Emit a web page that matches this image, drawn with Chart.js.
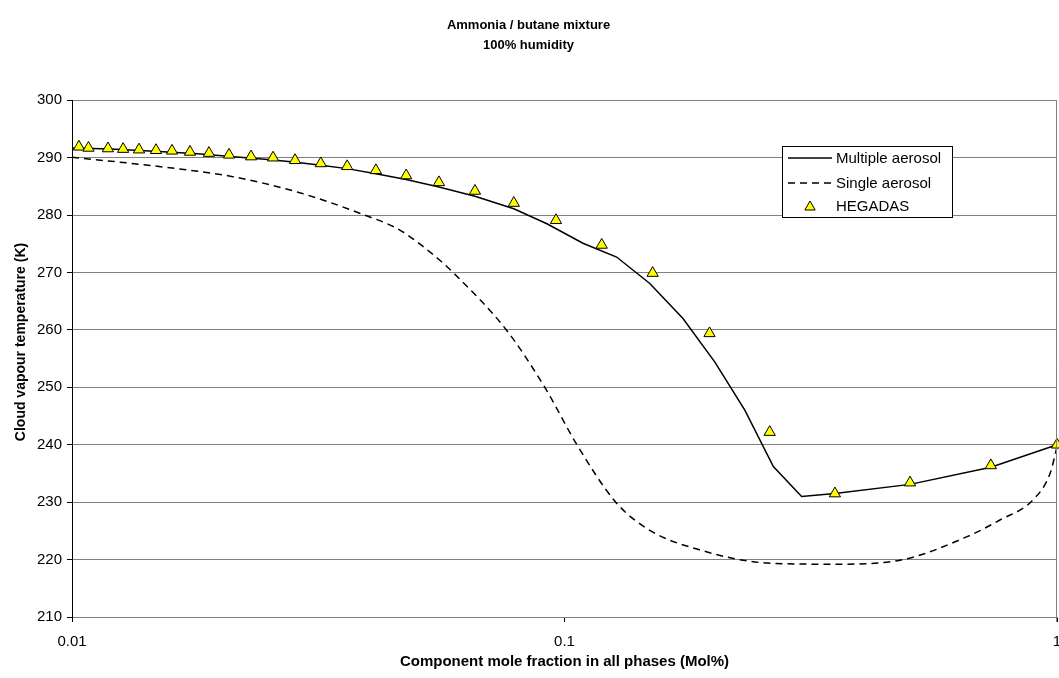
<!DOCTYPE html>
<html>
<head>
<meta charset="utf-8">
<title>Ammonia / butane mixture</title>
<script src="https://cdn.jsdelivr.net/npm/chart.js@4.4.0/dist/chart.umd.min.js"></script>
<style>
  html, body { margin: 0; padding: 0; background: #ffffff; overflow: hidden; }
  canvas { display: block; }
</style>
</head>
<body>
<canvas id="cloudChart" width="1059" height="678"></canvas>
<script>
// ==========================================
// data
// ==========================================
const multiX = [0.01, 0.012, 0.015, 0.018, 0.021, 0.025, 0.0285, 0.032, 0.0362, 0.0414, 0.0477,
  0.0556, 0.0658, 0.0789, 0.0921, 0.109, 0.1276, 0.149, 0.174, 0.202, 0.2325, 0.2655, 0.303,
  0.354, 0.503, 0.734, 1.0];
const multiY = [291.7, 291.5, 291.1, 290.7, 290.2, 289.7, 289.2, 288.7, 288.1, 287.2, 286.2,
  284.9, 283.3, 281.1, 278.5, 275.1, 272.7, 268.1, 262.0, 254.4, 246.0, 236.2, 231.0,
  231.5, 233.1, 236.1, 240.0];

const singleX = [0.01, 0.0156, 0.0212, 0.029, 0.0393, 0.0463, 0.0559, 0.0594, 0.0762,
  0.0912, 0.106, 0.1271, 0.149, 0.188, 0.258, 0.351, 0.48, 0.657, 0.766, 0.894, 0.968, 1.0];
const singleY = [290.1, 288.3, 286.7, 283.9, 280.0, 277.4, 272.1, 270.0, 260.0,
  250.0, 240.0, 230.0, 225.1, 221.7, 219.4, 219.2, 219.9, 224.0, 226.9, 230.4, 235.0, 239.6];

const hegadasX = [0.01033, 0.0108, 0.01183, 0.0127, 0.01368, 0.01481, 0.01596, 0.01736, 0.01897,
  0.02084, 0.0231, 0.0256, 0.02837, 0.032, 0.0362, 0.0414, 0.0477, 0.0556, 0.0658, 0.0789,
  0.0961, 0.119, 0.151, 0.197, 0.261, 0.354, 0.503, 0.734, 1.0];
const hegadasY = [291.9, 291.7, 291.6, 291.5, 291.4, 291.3, 291.2, 291.0, 290.8,
  290.5, 290.2, 290.0, 289.55, 289.0, 288.5, 287.8, 286.9, 285.7, 284.2, 282.1,
  279.1, 274.8, 269.9, 259.4, 242.2, 231.5, 233.4, 236.4, 240.0];

const xTicks = [0.01, 0.1, 1];
const yMin = 210;
const yMax = 300;
const yStep = 10;

const seriesLabels = ["Multiple aerosol", "Single aerosol", "HEGADAS"];
const titleLines = ["Ammonia / butane mixture", "100% humidity"];
const xTitle = "Component mole fraction in all phases (Mol%)";
const yTitle = "Cloud vapour temperature (K)";

const FONT = "'Liberation Sans', Arial, sans-serif";
const gridGray = "#808080";

function toPoints(xs, ys) {
  return xs.map((x, i) => ({ x, y: ys[i] }));
}

// Excel-style boxed legend sitting inside the plot area
const boxedLegend = {
  id: "boxedLegend",
  afterDraw(chart) {
    const ctx = chart.ctx;
    const left = 782, top = 146, width = 170, height = 71;
    ctx.save();
    ctx.fillStyle = "#ffffff";
    ctx.fillRect(left, top, width, height);
    ctx.strokeStyle = "#000000";
    ctx.lineWidth = 1;
    ctx.strokeRect(left + 0.5, top + 0.5, width, height);

    ctx.font = `15px ${FONT}`;
    ctx.textBaseline = "middle";
    const rows = [158, 183, 206];

    chart.data.datasets.forEach((ds, i) => {
      const y = rows[i];
      if (ds.showLine) {
        ctx.beginPath();
        ctx.setLineDash(ds.borderDash || []);
        ctx.strokeStyle = ds.borderColor;
        ctx.lineWidth = ds.borderWidth;
        ctx.moveTo(788, y);
        ctx.lineTo(832, y);
        ctx.stroke();
        ctx.setLineDash([]);
      } else {
        ctx.lineWidth = ds.pointBorderWidth;
        ctx.strokeStyle = ds.pointBorderColor;
        ctx.fillStyle = ds.pointBackgroundColor;
        Chart.helpers.drawPoint(ctx, { pointStyle: "triangle", radius: 6, rotation: 0, borderWidth: ds.pointBorderWidth }, 810, y + 1);
      }
      ctx.fillStyle = "#000000";
      ctx.fillText(ds.label, 836, y + 1);
    });
    ctx.restore();
  },
};

// grey frame on the right of the plot area, and the y title placed a bit above centre
const plotFrame = {
  id: "plotFrame",
  afterDatasetsDraw(chart) {
    const { ctx, chartArea } = chart;
    ctx.save();
    ctx.strokeStyle = gridGray;
    ctx.lineWidth = 1;
    ctx.beginPath();
    ctx.moveTo(Math.round(chartArea.right) - 0.5, chartArea.top);
    ctx.lineTo(Math.round(chartArea.right) - 0.5, chartArea.bottom + 5);
    ctx.stroke();

    ctx.translate(21, 342);
    ctx.rotate(-Math.PI / 2);
    ctx.font = `bold 14px ${FONT}`;
    ctx.fillStyle = "#000000";
    ctx.textAlign = "center";
    ctx.textBaseline = "middle";
    ctx.fillText(yTitle, 0, 0);
    ctx.restore();
  },
};

const ctx = document.getElementById("cloudChart").getContext("2d");

new Chart(ctx, {
  type: "scatter",
  data: {
    datasets: [
      {
        label: seriesLabels[0],
        data: toPoints(multiX, multiY),
        showLine: true,
        borderColor: "#000000",
        borderWidth: 1.5,
        pointRadius: 0,
        tension: 0,
        order: 2,
      },
      {
        label: seriesLabels[1],
        data: toPoints(singleX, singleY),
        showLine: true,
        borderColor: "#000000",
        borderWidth: 1.5,
        borderDash: [7, 5],
        pointRadius: 0,
        cubicInterpolationMode: "monotone",
        order: 3,
      },
      {
        label: seriesLabels[2],
        data: toPoints(hegadasX, hegadasY),
        showLine: false,
        pointStyle: "triangle",
        pointRadius: 6.5,
        pointBackgroundColor: "#ffff00",
        pointBorderColor: "#000000",
        pointBorderWidth: 1,
        order: 1,
      },
    ],
  },
  options: {
    responsive: false,
    animation: false,
    devicePixelRatio: 1,
    layout: { autoPadding: false, padding: { left: 0, right: 2, top: 0, bottom: 0 } },
    clip: false,
    scales: {
      x: {
        type: "logarithmic",
        min: 0.01,
        max: 1,
        afterBuildTicks: (scale) => {
          scale.ticks = xTicks.map((v) => ({ value: v }));
        },
        afterFit: (scale) => {
          scale.height = 61;
          scale.paddingLeft = 0;
          scale.paddingRight = 0;
        },
        grid: { drawOnChartArea: false, tickLength: 5, tickColor: "#000000" },
        border: { color: gridGray, width: 1 },
        ticks: {
          color: "#000000",
          font: { family: FONT, size: 15 },
          padding: 11,
          maxRotation: 0,
          autoSkip: false,
          callback: (v) => String(v),
        },
        title: {
          display: true,
          text: xTitle,
          color: "#000000",
          font: { family: FONT, size: 15, weight: "bold" },
          padding: { top: 0, bottom: 7 },
        },
      },
      y: {
        min: yMin,
        max: yMax,
        afterFit: (scale) => {
          scale.width = 72;
        },
        grid: { color: gridGray, tickLength: 5, tickColor: "#000000" },
        border: { color: "#000000", width: 1 },
        ticks: {
          stepSize: yStep,
          color: "#000000",
          font: { family: FONT, size: 15 },
          padding: 5,
        },
      },
    },
    plugins: {
      legend: { display: false },
      tooltip: { enabled: false },
      title: {
        display: true,
        text: titleLines,
        color: "#000000",
        font: { family: FONT, size: 13, weight: "bold", lineHeight: 1.55 },
        padding: { top: 15, bottom: 45 },
      },
    },
  },
  plugins: [plotFrame, boxedLegend],
});
</script>
</body>
</html>
